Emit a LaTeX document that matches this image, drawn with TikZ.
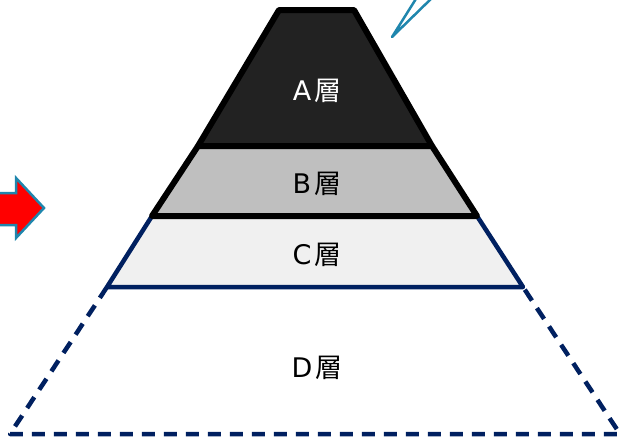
\documentclass[tikz,border=0pt]{standalone}
\usepackage{fontspec}
\setmainfont{DejaVu Sans}
\newfontfamily\cjk{Noto Sans CJK JP}
\usetikzlibrary{calc}
\definecolor{navy}{HTML}{002060}
\definecolor{teal}{HTML}{1F86AD}
\definecolor{layerA}{HTML}{222222}
\definecolor{layerB}{HTML}{BFBFBF}
\definecolor{layerC}{HTML}{F0F0F0}
\tikzset{
	blackline/.style={line width=6pt,line join=round,black},
	navyline/.style={line width=4.5pt,line join=round,navy},
	navydash/.style={navyline,dash pattern=on 13pt off 9pt},
	label/.style={font=\fontsize{27}{30}\selectfont,inner sep=0pt}
}
\newcommand{\Layer}[1]{{#1\kern3pt{\cjk 層}}}
\begin{document}
\begin{tikzpicture}[x=1pt,y=-1pt]
	\useasboundingbox (0,0) rectangle (631,439);
	\clip (0,0) rectangle (631,439);
	%corners
	\coordinate (aTL) at (279,10);
	\coordinate (aTR) at (354,10);
	\coordinate (aBL) at (198,146);
	\coordinate (aBR) at (432,146);
	\coordinate (bBL) at (152,216);
	\coordinate (bBR) at (477,216);
	\coordinate (cBL) at (107,287);
	\coordinate (cBR) at (523,287);
	\coordinate (dBL) at (10,434);
	\coordinate (dBR) at (620,434);
	%fills
	\fill[layerA] (aTL)--(aTR)--(aBR)--(aBL)--cycle;
	\fill[layerB] (aBL)--(aBR)--(bBR)--(bBL)--cycle;
	\fill[layerC] (bBL)--(bBR)--(cBR)--(cBL)--cycle;
	%D layer
	\draw[navydash] (cBL)--(dBL)--(dBR)--(cBR);
	%C layer
	\draw[navyline] (bBL)--(cBL)--(cBR)--(bBR);
	%A and B layers
	\draw[blackline] (aTL)--(aTR)--(aBR)--(aBL)--cycle;
	\draw[blackline] (aBL)--(bBL)--(bBR)--(aBR);
	%labels
	\node[label,text=white] (labA) at (317,91) {\Layer{A}};
	\node[label] (labB) at (317,184) {\Layer{B}};
	\node[label] (labC) at (317,255) {\Layer{C}};
	\node[label] (labD) at (317,368) {\Layer{D}};
	%callout pointer
	\coordinate (tip) at (392,37);
	\draw[teal,line width=2.5pt,line join=round,fill=white] (419,-6)--(tip)--(436,-6);
	%arrow
	\draw[teal,line width=2.5pt,fill=red,line join=miter]
		(-10,193)--(16,193)--(16,178)--(44,208)--(16,238)--(16,225)--(-10,225)--cycle;
\end{tikzpicture}
\end{document}
